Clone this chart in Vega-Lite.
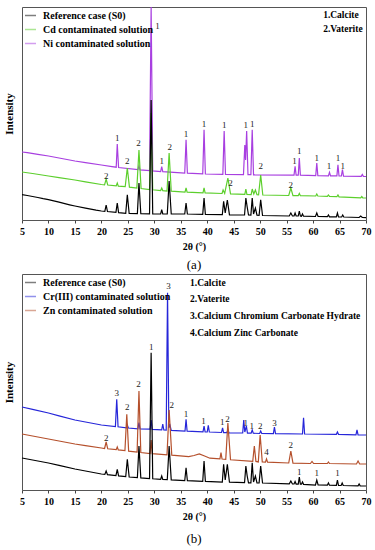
{
  "$schema": "https://vega.github.io/schema/vega-lite/v6.json",
  "padding": {"left": 2, "top": 4, "right": 5, "bottom": 0},
  "datasets": {
    "a_ref": [{"x":5,"y":25.3},{"x":6,"y":24.5},{"x":7,"y":23.5},{"x":8,"y":22.5},{"x":9,"y":21.3},{"x":10,"y":20.3},{"x":12,"y":17.8},{"x":14,"y":15.2},{"x":15,"y":14},{"x":17,"y":11.8},{"x":19,"y":9.8},{"x":20,"y":9},{"x":20.65,"y":8.6},{"x":20.9,"y":15},{"x":21.15,"y":8.5},{"x":22.75,"y":7.6},{"x":23.0,"y":17},{"x":23.25,"y":7.4},{"x":24.6,"y":6.6},{"x":24.9,"y":25.3},{"x":25.25,"y":6.5},{"x":26.8,"y":6.4},{"x":27.1,"y":37},{"x":27.45,"y":6.3},{"x":29.1,"y":6.1},{"x":29.4,"y":120},{"x":29.7,"y":6},{"x":31.2,"y":6},{"x":31.4,"y":10.3},{"x":31.6,"y":6},{"x":32.45,"y":6},{"x":32.8,"y":39},{"x":33.2,"y":6},{"x":35.75,"y":6},{"x":36.0,"y":17},{"x":36.25,"y":6},{"x":39.15,"y":5.6},{"x":39.4,"y":22},{"x":39.65,"y":5.5},{"x":42.85,"y":5.3},{"x":43.1,"y":18.7},{"x":43.4,"y":7},{"x":43.8,"y":20},{"x":44.2,"y":5.2},{"x":47.05,"y":5},{"x":47.3,"y":22},{"x":47.55,"y":13},{"x":47.8,"y":5},{"x":48.25,"y":4.9},{"x":48.5,"y":22},{"x":48.75,"y":6},{"x":49.1,"y":12},{"x":49.4,"y":4.8},{"x":49.8,"y":4.7},{"x":50.1,"y":20.3},{"x":50.45,"y":4.5},{"x":55.5,"y":4},{"x":55.8,"y":7},{"x":56.1,"y":4},{"x":56.4,"y":4},{"x":56.6,"y":7},{"x":56.8,"y":4},{"x":57.2,"y":4},{"x":57.4,"y":9},{"x":57.6,"y":4},{"x":57.8,"y":3.8},{"x":58.0,"y":6},{"x":58.2,"y":3.8},{"x":60.45,"y":3.5},{"x":60.7,"y":7},{"x":60.95,"y":3.5},{"x":62.7,"y":3.3},{"x":62.9,"y":5},{"x":63.1,"y":3.2},{"x":64.4,"y":3.1},{"x":64.6,"y":7},{"x":64.8,"y":3},{"x":65.4,"y":3},{"x":65.6,"y":5},{"x":65.8,"y":3},{"x":68.7,"y":2.5},{"x":69.0,"y":4},{"x":69.3,"y":2.5},{"x":70,"y":2.3}],
    "a_cd": [{"x":5,"y":48},{"x":7,"y":46.5},{"x":10,"y":44},{"x":12,"y":42.4},{"x":15,"y":40},{"x":17,"y":38.2},{"x":20,"y":35.5},{"x":20.6,"y":35.1},{"x":20.9,"y":41},{"x":21.2,"y":35},{"x":22.8,"y":34.1},{"x":23.0,"y":37},{"x":23.2,"y":33.9},{"x":24.5,"y":33.3},{"x":24.9,"y":52},{"x":25.3,"y":32.9},{"x":26.7,"y":31.9},{"x":27.1,"y":70},{"x":27.5,"y":31.5},{"x":29.1,"y":30.5},{"x":29.4,"y":107},{"x":29.7,"y":30.2},{"x":31.2,"y":29.5},{"x":31.4,"y":32},{"x":31.6,"y":29.4},{"x":32.4,"y":29},{"x":32.8,"y":67},{"x":33.2,"y":28.8},{"x":35.8,"y":27.8},{"x":36.0,"y":32},{"x":36.2,"y":27.8},{"x":39.2,"y":27.1},{"x":39.4,"y":32},{"x":39.6,"y":27.1},{"x":42.8,"y":26.5},{"x":43.0,"y":30},{"x":43.3,"y":26.6},{"x":43.9,"y":42},{"x":44.4,"y":26.2},{"x":47.1,"y":25.6},{"x":47.3,"y":31},{"x":47.5,"y":25.6},{"x":48.3,"y":25.4},{"x":48.5,"y":31},{"x":48.8,"y":26},{"x":49.1,"y":30},{"x":49.4,"y":25.2},{"x":49.7,"y":25.1},{"x":50.1,"y":45},{"x":50.5,"y":25},{"x":55.4,"y":24.5},{"x":55.8,"y":32},{"x":56.2,"y":24.4},{"x":57.2,"y":24.3},{"x":57.4,"y":26.5},{"x":57.6,"y":24.3},{"x":60.5,"y":24},{"x":60.7,"y":26},{"x":60.9,"y":24},{"x":62.7,"y":23.6},{"x":62.9,"y":25},{"x":63.1,"y":23.6},{"x":64.5,"y":23.3},{"x":64.7,"y":25},{"x":64.9,"y":23.2},{"x":69,"y":22.2},{"x":69.2,"y":23.5},{"x":69.4,"y":22.1},{"x":70,"y":22}],
    "a_ni": [{"x":5,"y":68},{"x":6,"y":67.3},{"x":8,"y":65.6},{"x":10,"y":64},{"x":12,"y":62},{"x":15,"y":59},{"x":17,"y":57.4},{"x":20,"y":55},{"x":22,"y":53.4},{"x":22.8,"y":52.8},{"x":23.0,"y":76},{"x":23.25,"y":52.5},{"x":26.9,"y":50.3},{"x":27.1,"y":54},{"x":27.3,"y":50.1},{"x":29.1,"y":49.3},{"x":29.4,"y":213},{"x":29.7,"y":49.1},{"x":31.2,"y":48.5},{"x":31.4,"y":53.5},{"x":31.6,"y":48.4},{"x":35.75,"y":46.9},{"x":36.0,"y":80.3},{"x":36.25,"y":46.8},{"x":39.15,"y":46.1},{"x":39.4,"y":90.3},{"x":39.65,"y":46},{"x":42.95,"y":45.7},{"x":43.2,"y":89},{"x":43.45,"y":45.6},{"x":46.85,"y":45.4},{"x":47.1,"y":75},{"x":47.25,"y":60},{"x":47.45,"y":89},{"x":47.7,"y":45.3},{"x":48.25,"y":45.3},{"x":48.5,"y":90.3},{"x":48.75,"y":45.2},{"x":56.4,"y":44.9},{"x":56.6,"y":53.7},{"x":56.8,"y":44.9},{"x":57.2,"y":44.8},{"x":57.4,"y":62},{"x":57.6,"y":44.8},{"x":60.5,"y":44.4},{"x":60.7,"y":57},{"x":60.9,"y":44.4},{"x":62.9,"y":44.2},{"x":63.1,"y":47.7},{"x":63.3,"y":44.2},{"x":64.5,"y":44.1},{"x":64.7,"y":55.3},{"x":64.9,"y":44},{"x":65.35,"y":44},{"x":65.55,"y":50.3},{"x":65.75,"y":43.9},{"x":69.1,"y":43.6},{"x":69.3,"y":45.5},{"x":69.5,"y":43.6},{"x":70,"y":43.5}],
    "b_ref": [{"x":5,"y":32},{"x":7,"y":30},{"x":10,"y":27},{"x":12,"y":24.6},{"x":15,"y":21},{"x":17,"y":19},{"x":20,"y":16},{"x":20.65,"y":15.6},{"x":20.9,"y":19},{"x":21.15,"y":15.4},{"x":22.75,"y":14.4},{"x":23.0,"y":20.7},{"x":23.25,"y":14.1},{"x":24.6,"y":13.3},{"x":24.9,"y":30.7},{"x":25.25,"y":13},{"x":26.8,"y":12.3},{"x":27.1,"y":44},{"x":27.45,"y":12.1},{"x":29.1,"y":11.4},{"x":29.4,"y":137.3},{"x":29.7,"y":11.2},{"x":31.2,"y":10.7},{"x":31.4,"y":14},{"x":31.6,"y":10.6},{"x":32.45,"y":10.3},{"x":32.8,"y":44},{"x":33.2,"y":10.1},{"x":35.75,"y":9.3},{"x":36.0,"y":22.3},{"x":36.25,"y":9.3},{"x":39.15,"y":8.6},{"x":39.4,"y":29},{"x":39.65,"y":8.6},{"x":42.85,"y":7.9},{"x":43.1,"y":25.7},{"x":43.4,"y":10},{"x":43.8,"y":25.7},{"x":44.2,"y":7.8},{"x":47.05,"y":7.3},{"x":47.3,"y":24},{"x":47.55,"y":14},{"x":47.8,"y":7.2},{"x":48.25,"y":7.1},{"x":48.5,"y":27.3},{"x":48.75,"y":8},{"x":49.1,"y":14},{"x":49.4,"y":7},{"x":49.8,"y":7},{"x":50.1,"y":24},{"x":50.45,"y":7},{"x":55.5,"y":6.1},{"x":55.8,"y":9},{"x":56.1,"y":6},{"x":56.4,"y":6},{"x":56.6,"y":8.5},{"x":56.8,"y":5.9},{"x":57.2,"y":5.9},{"x":57.4,"y":13},{"x":57.6,"y":5.8},{"x":57.8,"y":5.8},{"x":58.0,"y":8},{"x":58.2,"y":5.7},{"x":60.45,"y":5},{"x":60.7,"y":10},{"x":60.95,"y":5},{"x":62.7,"y":4.8},{"x":62.9,"y":7},{"x":63.1,"y":4.8},{"x":64.4,"y":4.6},{"x":64.6,"y":10},{"x":64.8,"y":4.6},{"x":65.3,"y":4.5},{"x":65.5,"y":7},{"x":65.7,"y":4.5},{"x":68.5,"y":4.1},{"x":68.7,"y":6},{"x":68.9,"y":4.1},{"x":70,"y":4}],
    "b_cr": [{"x":5,"y":83},{"x":7,"y":80.6},{"x":10,"y":77},{"x":12,"y":74.2},{"x":15,"y":70},{"x":17,"y":68},{"x":20,"y":65},{"x":22.65,"y":63.4},{"x":22.9,"y":90.7},{"x":23.15,"y":63.2},{"x":24.7,"y":62.2},{"x":24.9,"y":65},{"x":25.1,"y":62},{"x":26.9,"y":61.2},{"x":27.1,"y":67.3},{"x":27.3,"y":61.1},{"x":29.2,"y":60.8},{"x":29.4,"y":70},{"x":29.6,"y":60.6},{"x":31.4,"y":60.1},{"x":31.6,"y":66},{"x":31.8,"y":60},{"x":32.25,"y":59.8},{"x":32.5,"y":197.3},{"x":32.75,"y":62},{"x":32.9,"y":66},{"x":33.2,"y":59.6},{"x":35.8,"y":58.8},{"x":36.0,"y":70.7},{"x":36.2,"y":58.8},{"x":39.2,"y":58.2},{"x":39.4,"y":64},{"x":39.6,"y":58.1},{"x":40.0,"y":58},{"x":40.2,"y":64.7},{"x":40.4,"y":58},{"x":42.7,"y":57.5},{"x":42.9,"y":62},{"x":43.1,"y":57.4},{"x":43.7,"y":57.3},{"x":43.9,"y":60},{"x":44.1,"y":57.2},{"x":46.7,"y":57},{"x":46.9,"y":70},{"x":47.1,"y":58},{"x":47.4,"y":64},{"x":47.6,"y":56.9},{"x":48.3,"y":56.8},{"x":48.5,"y":60},{"x":48.7,"y":56.8},{"x":49.9,"y":56.5},{"x":50.1,"y":59},{"x":50.3,"y":56.5},{"x":52.5,"y":56.3},{"x":52.7,"y":63},{"x":52.9,"y":56.3},{"x":58.0,"y":56},{"x":58.2,"y":72.3},{"x":58.4,"y":56},{"x":64.4,"y":55.7},{"x":64.6,"y":58},{"x":64.8,"y":55.7},{"x":68.1,"y":55.2},{"x":68.3,"y":60},{"x":68.5,"y":55.2},{"x":70,"y":55}],
    "b_zn": [{"x":5,"y":56},{"x":7,"y":54},{"x":10,"y":51},{"x":12,"y":49},{"x":15,"y":46},{"x":17,"y":44.4},{"x":20,"y":42},{"x":20.6,"y":41.5},{"x":20.9,"y":48},{"x":21.2,"y":41.2},{"x":22.8,"y":40.3},{"x":23.0,"y":43},{"x":23.2,"y":40.1},{"x":24.45,"y":39.3},{"x":24.8,"y":75.7},{"x":25.15,"y":38.9},{"x":26.75,"y":37.9},{"x":27.1,"y":99},{"x":27.45,"y":37.5},{"x":29.2,"y":36.5},{"x":29.4,"y":50},{"x":29.6,"y":36.3},{"x":32.4,"y":35.2},{"x":32.8,"y":80},{"x":33.3,"y":34.9},{"x":36.5,"y":33.4},{"x":37.5,"y":34.5},{"x":38.5,"y":36},{"x":39.5,"y":34},{"x":40.5,"y":31.8},{"x":42.4,"y":31.1},{"x":42.6,"y":37.3},{"x":42.8,"y":31},{"x":43.5,"y":30.6},{"x":43.9,"y":67},{"x":44.4,"y":30.2},{"x":48.6,"y":28.6},{"x":48.9,"y":44},{"x":49.2,"y":28.6},{"x":49.65,"y":28.1},{"x":50.0,"y":55},{"x":50.4,"y":28},{"x":51.0,"y":27.8},{"x":51.2,"y":31},{"x":51.4,"y":27.8},{"x":55.4,"y":27},{"x":55.8,"y":39},{"x":56.2,"y":26.9},{"x":59.5,"y":26.5},{"x":59.8,"y":28.5},{"x":60.1,"y":26.5},{"x":62.7,"y":26.5},{"x":62.9,"y":28},{"x":63.1,"y":26.5},{"x":68.2,"y":26},{"x":68.5,"y":29},{"x":68.8,"y":26},{"x":70,"y":26}],
    "la": [{"x":20.9,"y":44.3,"t":"2"},{"x":23.0,"y":82,"t":"1"},{"x":24.9,"y":58.7,"t":"2"},{"x":27.0,"y":77,"t":"2"},{"x":30.6,"y":194.3,"t":"1"},{"x":31.4,"y":58.7,"t":"1"},{"x":32.9,"y":73,"t":"2"},{"x":36.0,"y":86,"t":"1"},{"x":39.4,"y":96.5,"t":"1"},{"x":43.2,"y":95,"t":"1"},{"x":44.4,"y":37.5,"t":"2"},{"x":47.3,"y":95,"t":"1"},{"x":48.5,"y":96.5,"t":"1"},{"x":50.1,"y":53.7,"t":"2"},{"x":55.8,"y":35.3,"t":"2"},{"x":56.5,"y":59.3,"t":"1"},{"x":57.4,"y":68.7,"t":"1"},{"x":60.7,"y":62,"t":"1"},{"x":63.0,"y":53.7,"t":"1"},{"x":64.7,"y":62,"t":"1"},{"x":65.6,"y":54.3,"t":"1"}],
    "lb": [{"x":20.9,"y":52.3,"t":"2"},{"x":22.9,"y":97,"t":"3"},{"x":24.9,"y":83,"t":"2"},{"x":27.0,"y":105.7,"t":"2"},{"x":29.4,"y":143.3,"t":"1"},{"x":32.7,"y":204,"t":"3"},{"x":33.3,"y":85,"t":"2"},{"x":36.0,"y":75.7,"t":"1"},{"x":39.3,"y":69,"t":"1"},{"x":42.85,"y":68,"t":"1"},{"x":43.85,"y":71.5,"t":"2"},{"x":47.3,"y":67.5,"t":"1"},{"x":48.4,"y":64,"t":"1"},{"x":50.0,"y":64,"t":"2"},{"x":51.2,"y":38,"t":"4"},{"x":52.7,"y":67,"t":"3"},{"x":55.8,"y":44.7,"t":"2"},{"x":57.4,"y":18,"t":"1"},{"x":60.7,"y":16.7,"t":"1"},{"x":64.6,"y":16.7,"t":"1"}],
    "pa": [{"x":61.9,"y":204.7,"t":"1.Calcite"},{"x":61.9,"y":191,"t":"2.Vaterite"}],
    "pb": [{"x":36.75,"y":207.3,"t":"1.Calcite"},{"x":36.75,"y":191,"t":"2.Vaterite"},{"x":36.75,"y":174,"t":"3.Calcium Chromium Carbonate Hydrate"},{"x":36.75,"y":157,"t":"4.Calcium Zinc Carbonate"}]
  },
  "vconcat": [
    {
      "width": 344,
      "height": 213,
      "title": {"text": "(a)", "orient": "bottom"},
      "encoding": {
        "x": {"field": "x", "type": "quantitative", "scale": {"domain": [5, 70], "nice": false, "zero": false}, "axis": {"title": "2θ (°)", "values": [5,10,15,20,25,30,35,40,45,50,55,60,65,70]}},
        "y": {"field": "y", "type": "quantitative", "scale": {"domain": [0, 213], "nice": false, "zero": false}, "axis": {"title": "Intensity", "labels": false, "ticks": false, "domain": false, "grid": false}}
      },
      "layer": [
        {"data": {"name": "a_ni"}, "mark": {"type": "line", "strokeWidth": 1.2}, "encoding": {"color": {"datum": "Ni contaminated solution", "type": "nominal", "scale": {"domain": ["Reference case (S0)", "Cd contaminated solution", "Ni contaminated solution"], "range": ["#000000", "#5ccf2c", "#a83fe0"]}, "legend": {"title": null}}}},
        {"data": {"name": "a_cd"}, "mark": {"type": "line", "strokeWidth": 1.2}, "encoding": {"color": {"datum": "Cd contaminated solution", "type": "nominal", "scale": {"domain": ["Reference case (S0)", "Cd contaminated solution", "Ni contaminated solution"], "range": ["#000000", "#5ccf2c", "#a83fe0"]}, "legend": {"title": null}}}},
        {"data": {"name": "a_ref"}, "mark": {"type": "line", "strokeWidth": 1.2}, "encoding": {"color": {"datum": "Reference case (S0)", "type": "nominal", "scale": {"domain": ["Reference case (S0)", "Cd contaminated solution", "Ni contaminated solution"], "range": ["#000000", "#5ccf2c", "#a83fe0"]}, "legend": {"title": null}}}},
        {"data": {"name": "la"}, "mark": {"type": "text", "font": "Liberation Serif", "fontSize": 9, "baseline": "middle", "align": "center", "fill": "#222"}, "encoding": {"text": {"field": "t"}}},
        {"data": {"name": "pa"}, "mark": {"type": "text", "font": "Liberation Serif", "fontSize": 9.5, "fontWeight": "bold", "baseline": "middle", "align": "left", "fill": "#000"}, "encoding": {"text": {"field": "t"}}}
      ]
    },
    {
      "width": 344,
      "height": 216,
      "title": {"text": "(b)", "orient": "bottom", "offset": 12},
      "encoding": {
        "x": {"field": "x", "type": "quantitative", "scale": {"domain": [5, 70], "nice": false, "zero": false}, "axis": {"title": "2θ (°)", "values": [5,10,15,20,25,30,35,40,45,50,55,60,65,70]}},
        "y": {"field": "y", "type": "quantitative", "scale": {"domain": [0, 216], "nice": false, "zero": false}, "axis": {"title": "Intensity", "labels": false, "ticks": false, "domain": false, "grid": false}}
      },
      "layer": [
        {"data": {"name": "b_cr"}, "mark": {"type": "line", "strokeWidth": 1.2}, "encoding": {"color": {"datum": "Cr(III) contaminated solution", "type": "nominal", "scale": {"domain": ["Reference case (S0)", "Cr(III) contaminated solution", "Zn contaminated solution"], "range": ["#000000", "#2626d9", "#b5502c"]}, "legend": {"title": null}}}},
        {"data": {"name": "b_zn"}, "mark": {"type": "line", "strokeWidth": 1.2}, "encoding": {"color": {"datum": "Zn contaminated solution", "type": "nominal", "scale": {"domain": ["Reference case (S0)", "Cr(III) contaminated solution", "Zn contaminated solution"], "range": ["#000000", "#2626d9", "#b5502c"]}, "legend": {"title": null}}}},
        {"data": {"name": "b_ref"}, "mark": {"type": "line", "strokeWidth": 1.2}, "encoding": {"color": {"datum": "Reference case (S0)", "type": "nominal", "scale": {"domain": ["Reference case (S0)", "Cr(III) contaminated solution", "Zn contaminated solution"], "range": ["#000000", "#2626d9", "#b5502c"]}, "legend": {"title": null}}}},
        {"data": {"name": "lb"}, "mark": {"type": "text", "font": "Liberation Serif", "fontSize": 9, "baseline": "middle", "align": "center", "fill": "#222"}, "encoding": {"text": {"field": "t"}}},
        {"data": {"name": "pb"}, "mark": {"type": "text", "font": "Liberation Serif", "fontSize": 9.5, "fontWeight": "bold", "baseline": "middle", "align": "left", "fill": "#000"}, "encoding": {"text": {"field": "t"}}}
      ]
    }
  ],
  "spacing": 0,
  "resolve": {"scale": {"color": "independent", "x": "independent", "y": "independent"}, "legend": {"color": "independent"}},
  "config": {
    "view": {"stroke": "#555", "strokeWidth": 1},
    "font": "Liberation Serif",
    "axisX": {"labelFont": "Liberation Serif", "labelFontWeight": "bold", "labelFontSize": 10, "labelColor": "#000", "tickSize": 3, "tickColor": "#444", "labelPadding": 3, "domain": false, "grid": false, "titleFont": "Liberation Serif", "titleFontWeight": "bold", "titleFontSize": 10, "titleColor": "#000", "titlePadding": 5, "labelFlush": false},
    "axisY": {"titleFont": "Liberation Serif", "titleFontWeight": "bold", "titleFontSize": 11, "titleColor": "#000", "titlePadding": 8},
    "legend": {"orient": "top-left", "offset": 2, "padding": 0, "symbolType": "stroke", "symbolSize": 120, "symbolStrokeWidth": 1.5, "symbolOpacity": 0.5, "labelFont": "Liberation Serif", "labelFontWeight": "bold", "labelFontSize": 10, "labelColor": "#000", "rowPadding": 2, "labelOffset": 6},
    "title": {"font": "Liberation Serif", "fontSize": 13, "fontWeight": "normal", "color": "#000", "offset": 8, "anchor": "middle"}
  }
}
